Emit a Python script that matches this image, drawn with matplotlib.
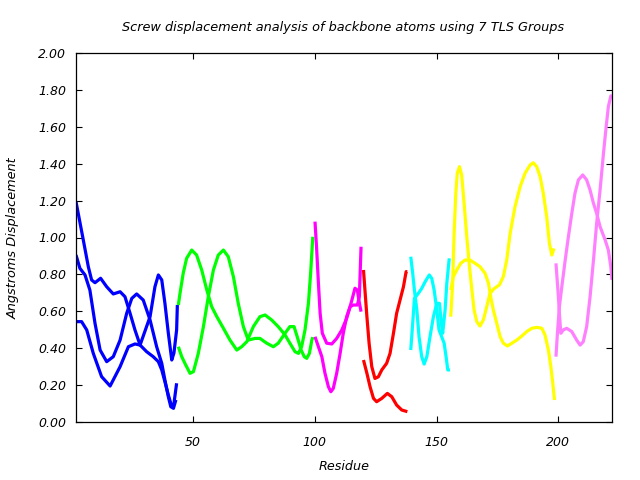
import matplotlib
matplotlib.use("Agg")
import matplotlib.pyplot as plt

plt.rcParams['font.family'] = ['DejaVu Sans']
plt.rcParams['font.style'] = 'italic'
plt.rcParams['font.size'] = 9

title = "Screw displacement analysis of backbone atoms using 7 TLS Groups"
xlabel = "Residue"
ylabel = "Angstroms Displacement"
xticks = [50, 100, 150, 200]
yticks = [0.0, 0.2, 0.4, 0.6, 0.8, 1.0, 1.2, 1.4, 1.6, 1.8, 2.0]

# Group 1 (blue)
blue_a_x = [2, 5.0, 7.05, 8.4, 9.8, 12.1, 14.6, 17.3, 20.1, 22.1, 24.2, 26.2, 28.3, 31.0, 33.7, 35.8, 37.2, 38.5, 39.9, 41.3, 42.2, 43.3]
blue_a_y = [1.194, 0.986, 0.842, 0.77, 0.755, 0.779, 0.733, 0.694, 0.706, 0.679, 0.589, 0.499, 0.417, 0.381, 0.354, 0.327, 0.282, 0.218, 0.146, 0.083, 0.10, 0.21]
blue_b_x = [2, 3.6, 5.7, 7.7, 9.8, 11.9, 14.6, 17.3, 20.1, 22.8, 24.9, 26.9, 29.6, 32.4, 35.1, 37.2, 38.5, 39.9, 40.9, 42.0, 43.0]
blue_b_y = [0.905, 0.833, 0.797, 0.715, 0.535, 0.39, 0.327, 0.354, 0.444, 0.589, 0.670, 0.694, 0.661, 0.553, 0.408, 0.318, 0.227, 0.137, 0.083, 0.074, 0.12]
blue_c_x = [2, 4.3, 6.4, 9.1, 12.5, 16.0, 20.1, 23.5, 26.2, 28.3, 32.4, 34.4, 35.8, 37.2, 38.5, 39.9, 41.3, 42.2, 43.3, 43.6]
blue_c_y = [0.544, 0.544, 0.499, 0.372, 0.246, 0.195, 0.30, 0.408, 0.423, 0.417, 0.571, 0.733, 0.797, 0.77, 0.643, 0.481, 0.336, 0.374, 0.499, 0.634]

# Group 2 (green)
green_a_x = [44, 44.7, 46.0, 47.4, 49.5, 51.5, 53.6, 55.7, 57.7, 59.8, 62.5, 65.2, 68.0, 70.0, 72.1, 74.8, 77.5, 79.6, 82.3, 85.0, 87.8, 89.8, 91.9, 93.3, 94.6, 96.0, 97.4, 98.3, 99.2]
green_a_y = [0.634, 0.698, 0.806, 0.887, 0.932, 0.905, 0.824, 0.715, 0.625, 0.571, 0.508, 0.444, 0.390, 0.408, 0.435, 0.517, 0.571, 0.58, 0.553, 0.517, 0.472, 0.427, 0.381, 0.372, 0.408, 0.499, 0.643, 0.806, 1.004]
green_b_x = [44, 45.4, 46.7, 48.8, 50.2, 52.2, 54.3, 56.3, 58.4, 60.4, 62.5, 64.5, 66.6, 68.6, 70.7, 72.7, 75.5, 77.5, 80.3, 83.0, 85.0, 87.8, 89.8, 91.5, 92.8, 94.4, 95.7, 96.7, 97.8, 98.8, 99.2]
green_b_y = [0.408, 0.354, 0.318, 0.264, 0.273, 0.372, 0.517, 0.679, 0.824, 0.905, 0.932, 0.896, 0.788, 0.643, 0.517, 0.444, 0.453, 0.453, 0.427, 0.408, 0.427, 0.481, 0.517, 0.517, 0.462, 0.39, 0.354, 0.345, 0.372, 0.444, 0.46]

# Group 3 (magenta)
mag_a_x = [100.1, 100.8, 101.5, 102.2, 103.1, 104.9, 107.0, 109.0, 111.1, 113.1, 114.5, 115.6, 116.5, 117.5, 118.1, 119.0]
mag_a_y = [1.086, 0.932, 0.752, 0.589, 0.481, 0.427, 0.423, 0.453, 0.499, 0.562, 0.625, 0.679, 0.725, 0.715, 0.661, 0.598]
mag_b_x = [100.1, 101.5, 102.9, 104.2, 105.6, 106.6, 107.6, 109.0, 110.4, 111.7, 113.1, 114.5, 115.8, 117.5, 118.3, 119.0]
mag_b_y = [0.462, 0.408, 0.354, 0.264, 0.191, 0.164, 0.182, 0.264, 0.372, 0.481, 0.571, 0.625, 0.634, 0.634, 0.679, 0.95]

# Group 4 (red)
red_a_x = [120.0, 120.7, 121.4, 122.3, 123.4, 124.7, 126.1, 127.5, 129.5, 130.9, 132.3, 133.6, 135.0, 136.4, 137.5, 138.0]
red_a_y = [0.824, 0.697, 0.571, 0.427, 0.30, 0.236, 0.245, 0.282, 0.318, 0.372, 0.481, 0.589, 0.661, 0.733, 0.815, 0.815]
red_b_x = [120.0, 121.4, 122.7, 124.1, 125.4, 127.5, 129.8, 131.6, 133.6, 135.7, 138.0]
red_b_y = [0.336, 0.264, 0.191, 0.128, 0.110, 0.128, 0.155, 0.137, 0.092, 0.065, 0.056]

# Group 5 (cyan)
cyan_a_x = [139.4, 140.2, 140.9, 141.9, 142.8, 143.9, 144.9, 146.0, 147.3, 148.7, 150.1, 151.2, 151.8, 152.5, 153.5, 154.2, 155.2]
cyan_a_y = [0.896, 0.806, 0.715, 0.607, 0.462, 0.354, 0.314, 0.354, 0.462, 0.571, 0.643, 0.643, 0.553, 0.481, 0.607, 0.752, 0.887]
cyan_b_x = [139.4, 140.2, 140.9, 142.5, 143.9, 145.3, 147.0, 148.0, 149.0, 150.1, 151.0, 152.1, 153.1, 153.9, 154.6, 155.5]
cyan_b_y = [0.39, 0.535, 0.67, 0.697, 0.724, 0.76, 0.797, 0.779, 0.715, 0.607, 0.499, 0.462, 0.427, 0.354, 0.282, 0.282]

# Group 6 (yellow)
yel_a_x = [155.8, 156.6, 157.2, 157.9, 158.5, 159.4, 160.3, 161.3, 162.4, 163.5, 164.5, 165.4, 166.5, 167.8, 169.2, 170.6, 171.9, 173.7, 175.8, 177.4, 178.8, 180.2, 182.2, 184.3, 186.3, 188.4, 189.7, 191.1, 192.5, 193.8, 195.2, 196.3, 197.3, 198.2]
yel_a_y = [0.571, 0.752, 1.023, 1.24, 1.348, 1.384, 1.339, 1.185, 1.004, 0.842, 0.715, 0.607, 0.544, 0.52, 0.553, 0.625, 0.697, 0.724, 0.743, 0.788, 0.878, 1.023, 1.167, 1.275, 1.348, 1.393, 1.405, 1.384, 1.33, 1.24, 1.113, 0.969, 0.905, 0.941]
yel_b_x = [155.8, 156.9, 158.3, 159.9, 161.7, 163.7, 165.8, 167.8, 169.9, 171.3, 172.2, 173.3, 174.7, 176.1, 177.4, 179.1, 180.9, 182.9, 185.0, 187.0, 189.1, 191.1, 193.2, 194.5, 195.9, 196.9, 197.7, 198.4]
yel_b_y = [0.715, 0.788, 0.824, 0.86, 0.878, 0.878, 0.86, 0.842, 0.806, 0.752, 0.679, 0.607, 0.535, 0.462, 0.427, 0.412, 0.427, 0.444, 0.466, 0.49, 0.508, 0.513, 0.508, 0.472, 0.39, 0.30, 0.21, 0.119]

# Group 7 (violet)
vio_a_x = [199.0, 200.0, 200.4, 201.0, 202.0, 203.4, 205.5, 207.5, 208.9, 210.2, 211.6, 213.0, 214.4, 215.7, 217.1, 218.5, 219.6, 220.5, 221.5, 222]
vio_a_y = [0.86, 0.679, 0.589, 0.481, 0.499, 0.508, 0.49, 0.444, 0.417, 0.435, 0.517, 0.679, 0.878, 1.077, 1.257, 1.456, 1.60, 1.709, 1.767, 1.77]
vio_b_x = [199.0, 199.6, 200.4, 201.4, 202.8, 204.1, 205.5, 206.8, 208.2, 210.0, 211.6, 213.0, 214.4, 215.7, 217.1, 219.2, 220.5, 221.5, 222]
vio_b_y = [0.354, 0.481, 0.625, 0.733, 0.878, 1.004, 1.131, 1.24, 1.312, 1.339, 1.312, 1.257, 1.185, 1.131, 1.059, 0.986, 0.932, 0.842, 0.77]

groups = [
    ("#0000ff", [(blue_a_x, blue_a_y), (blue_b_x, blue_b_y), (blue_c_x, blue_c_y)]),
    ("#00ff00", [(green_a_x, green_a_y), (green_b_x, green_b_y)]),
    ("#ff00ff", [(mag_a_x, mag_a_y), (mag_b_x, mag_b_y)]),
    ("#ff0000", [(red_a_x, red_a_y), (red_b_x, red_b_y)]),
    ("#00ffff", [(cyan_a_x, cyan_a_y), (cyan_b_x, cyan_b_y)]),
    ("#ffff00", [(yel_a_x, yel_a_y), (yel_b_x, yel_b_y)]),
    ("#ff80ff", [(vio_a_x, vio_a_y), (vio_b_x, vio_b_y)]),
]

fig = plt.figure(figsize=(6.4, 4.8), dpi=100)
ax = fig.add_axes([76/640, 1-422/480, (612-76)/640, (422-53)/480])

for color, curves in groups:
    for xs, ys in curves:
        ax.plot(xs, ys, color=color, lw=2.3, solid_joinstyle='round', solid_capstyle='butt')

ax.set_xlim(2, 222)
ax.set_ylim(0, 2.0)
ax.set_xticks(xticks)
ax.set_yticks(yticks)
ax.set_yticklabels([f"{v:.2f}" for v in yticks])
ax.tick_params(direction='in', length=4, width=0.8, top=True, right=True, labelsize=9)
ax.tick_params(axis='x', pad=10)
ax.tick_params(axis='y', pad=7)
for s in ax.spines.values():
    s.set_linewidth(0.9)

fig.text(343/640, 1-27/480, title, ha='center', va='center', fontsize=9.3)
fig.text(344/640, 1-467/480, xlabel, ha='center', va='center', fontsize=9.2)
fig.text(13/640, 1-238/480, ylabel, ha='center', va='center', rotation=90, fontsize=9.3)

fig.savefig("out.png", dpi=100)
